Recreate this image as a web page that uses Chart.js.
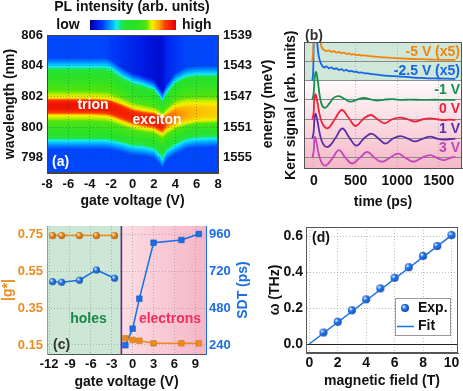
<!DOCTYPE html>
<html>
<head>
<meta charset="utf-8">
<script src="https://cdn.jsdelivr.net/npm/chart.js@4.4.0/dist/chart.umd.min.js"></script>
<style>
  html, body { margin: 0; padding: 0; background: #fff; }
  #wrap { position: relative; width: 463px; height: 391px; overflow: hidden; }
  canvas { position: absolute; }
</style>
</head>
<body>
<div id="wrap">
  <canvas id="pl" width="280" height="212" style="left:0;top:0"></canvas>
  <canvas id="kerr" width="183" height="212" style="left:280px;top:0"></canvas>
  <canvas id="gfac" width="262" height="179" style="left:0;top:212px"></canvas>
  <canvas id="omega" width="201" height="179" style="left:262px;top:212px"></canvas>
</div>
<script>
"use strict";

// ---- (a) PL map (nm) ----
const plVoltage   = [-8, -6, -4, -2.5, -2, -1, 0, 1, 2, 2.5, 2.8, 3.2, 4, 5, 6, 8];
const plPeakNm    = [801.4, 801.4, 801.4, 801.35, 801.3, 801.0, 800.7, 800.55, 800.45, 800.3, 800.2, 800.45, 800.7, 800.85, 800.95, 801.0];
const plPeakLevel = [0.96, 0.96, 0.96, 0.96, 0.95, 0.94, 0.93, 0.93, 0.94, 0.95, 0.92, 0.86, 0.83, 0.8, 0.78, 0.76];
const plCyanTop   = [803.95, 803.95, 803.95, 803.95, 803.85, 803.35, 803.0, 802.8, 802.55, 802.1, 801.8, 802.3, 803.0, 803.35, 803.45, 803.45];
const plGreenTop  = [803.4, 803.4, 803.4, 803.4, 803.25, 802.8, 802.45, 802.25, 802.05, 801.7, 801.45, 801.85, 802.6, 802.95, 803.05, 803.05];
const plYellowTop = [801.9, 801.9, 801.9, 801.85, 801.8, 801.55, 801.25, 801.1, 801.0, 800.85, 800.7, 800.95, 801.35, 801.5, 801.5, 801.5];
const plYellowBot = [800.75, 800.75, 800.75, 800.7, 800.62, 800.35, 800.1, 799.95, 799.85, 799.65, 799.55, 799.8, 800.1, 800.3, 800.45, 800.5];
const plGreenBot  = [799.55, 799.55, 799.55, 799.5, 799.45, 799.3, 799.15, 799.1, 799.0, 798.75, 798.55, 798.9, 799.25, 799.6, 799.7, 799.75];
const plCyanBot   = [799.1, 799.1, 799.1, 799.1, 799.05, 798.9, 798.7, 798.65, 798.5, 798.15, 797.85, 798.4, 798.75, 799.1, 799.2, 799.25];
const plFloorTop  = [0.15, 0.15, 0.15, 0.15, 0.14, 0.12, 0.1, 0.08, 0.06, 0.05, 0.06, 0.1, 0.13, 0.15, 0.15, 0.15];
const plFloorBottom = 0.15;

const gateTicksA = [-8, -6, -4, -2, 0, 2, 4, 6, 8];
const wavelengthTicks = [798, 800, 802, 804, 806];
const energyTicks = [1539, 1543, 1547, 1551, 1555];

// ---- (b) Kerr traces: [time ps, signal], each on its own baseline ----
const kerrM5V = [[-20,0],[-10,0.5],[0,1.5],[30,1.8],[60,1.6],[80,0.95],[100,0.66],[120,0.6],[150,0.53],[180,0.57],[210,0.49],[240,0.53],[270,0.45],[300,0.49],[330,0.42],[360,0.45],[390,0.38],[420,0.41],[450,0.35],[480,0.37],[510,0.32],[540,0.34],[570,0.3],[600,0.31],[650,0.28],[700,0.26],[800,0.22],[900,0.19],[1000,0.16],[1100,0.14],[1200,0.12],[1300,0.11],[1400,0.095],[1500,0.085],[1600,0.075],[1700,0.07]];
const kerrM2p5V = [[-20,0],[-10,0.4],[0,2.2],[20,2.6],[40,1.9],[55,1.32],[75,0.98],[95,0.8],[120,0.68],[150,0.74],[180,0.64],[210,0.69],[240,0.6],[270,0.64],[300,0.56],[330,0.6],[360,0.52],[390,0.55],[420,0.48],[450,0.51],[480,0.45],[510,0.46],[540,0.41],[570,0.43],[600,0.39],[650,0.37],[700,0.34],[800,0.29],[900,0.25],[1000,0.22],[1100,0.19],[1200,0.16],[1300,0.14],[1400,0.12],[1500,0.11],[1600,0.1],[1700,0.09]];
const kerrM1V = [[-20,0],[-5,0.3],[10,1.2],[25,1.44],[45,1.0],[70,0.2],[100,-0.3],[140,-0.4],[190,-0.15],[240,0.12],[300,0.2],[370,0.05],[440,-0.09],[520,0.02],[600,0.1],[680,0.03],[760,-0.03],[850,0.02],[950,0.04],[1050,0],[1150,0.02],[1300,0],[1450,0.01],[1600,0],[1700,0]];
const kerr0V = [[-20,0],[-5,0.3],[5,1.1],[18,1.29],[40,0.9],[70,0.2],[110,-0.3],[170,-0.46],[250,0],[335,0.48],[420,0.05],[500,-0.35],[590,0],[680,0.22],[765,0],[850,-0.21],[940,0],[1035,0.08],[1125,0],[1215,-0.12],[1310,0],[1400,0.05],[1480,0],[1560,-0.05],[1630,-0.02],[1700,-0.04]];
const kerr1V = [[-20,0],[-5,0.3],[8,1.1],[20,1.29],[40,0.95],[70,0.25],[110,-0.28],[170,-0.43],[255,0],[340,0.52],[425,0.05],[510,-0.37],[600,0],[690,0.26],[775,0],[860,-0.26],[950,0],[1040,0.13],[1130,0],[1215,-0.15],[1310,0],[1400,0.1],[1480,0],[1560,-0.05],[1700,0]];
const kerr3V = [[-20,0],[-5,0.3],[5,0.9],[12,1.08],[30,0.8],[60,0.15],[100,-0.3],[150,-0.38],[225,0],[300,0.4],[380,0],[460,-0.29],[550,0],[640,0.31],[730,0],[815,-0.2],[910,0],[1010,0.22],[1100,0],[1195,-0.2],[1295,0],[1395,0.14],[1480,0],[1560,-0.12],[1640,0],[1700,0.05]];
const kerrLabels = ["-5 V (x5)", "-2.5 V (x5)", "-1 V", "0 V", "1 V", "3 V"];
const kerrColors = ["#f0860c", "#1565e8", "#13904a", "#f2203a", "#5b2ea6", "#c545b8"];
const timeTicks = [0, 500, 1000, 1500];
const kerrBaselines = [5, 4, 3, 2, 1, 0];

// ---- (c) g-factor and spin dephasing time ----
const holesVoltage = [-11.5, -10.2, -7.65, -5.2, -2.6];
const holesG = [0.743, 0.743, 0.743, 0.743, 0.743];
const holesSDT = [652, 648, 661, 728, 674];
const electronsVoltage = [-1.05, 0.0, 0.96, 3.0, 7.0, 9.5];
const electronsG = [0.186, 0.177, 0.173, 0.159, 0.159, 0.159];
const electronsSDT = [238, 346, 541, 905, 923, 962];
const carrierBoundary = -1.62;
const gateTicksC = [-12, -9, -6, -3, 0, 3, 6, 9];
const gTicks = [0.15, 0.35, 0.55, 0.75];
const sdtTicks = [240, 480, 720, 960];

// ---- (d) precession frequency vs field ----
const fieldT = [1, 2, 3, 4, 5, 6, 7, 8, 9, 10];
const omegaTHz = [0.064, 0.124, 0.188, 0.249, 0.31, 0.369, 0.428, 0.491, 0.546, 0.607];
const fitField = [0, 10];
const fitOmega = [0, 0.605];
const fieldTicks = [0, 2, 4, 6, 8, 10];
const omegaTicks = [0, 0.2, 0.4, 0.6];

const FONT = '"Liberation Sans", Arial, Helvetica, sans-serif';
const ORANGE = "#ec8a1c";
const BLUE = "#1a6ee6";

Chart.defaults.font.family = FONT;
Chart.defaults.font.weight = "bold";
Chart.defaults.font.size = 13;
Chart.defaults.color = "#111";
Chart.defaults.animation = false;
Chart.defaults.events = [];
Chart.defaults.plugins.legend.display = false;
Chart.defaults.plugins.tooltip.enabled = false;

const fixTicks = (vals) => (s) => { s.ticks = vals.map((v) => ({ value: v })); };
const fixWidth = (w) => (s) => { s.width = w; };
const fixHeight = (h) => (s) => { s.height = h; };
const plain = (v) => String(v);
const flat = { maxRotation: 0, minRotation: 0, autoSkip: false };

function text(ctx, str, x, y, opt = {}) {
  ctx.save();
  ctx.translate(x, y);
  ctx.rotate(opt.rot || 0);
  ctx.font = `bold ${opt.size || 14}px ${FONT}`;
  ctx.fillStyle = opt.color || "#111";
  ctx.textAlign = opt.align || "center";
  ctx.textBaseline = "middle";
  ctx.fillText(str, 0, 0);
  ctx.restore();
}

function frame(color) {
  return {
    id: "frame",
    afterDraw(chart) {
      const { ctx, chartArea: a } = chart;
      ctx.save();
      ctx.strokeStyle = color;
      ctx.lineWidth = 1;
      ctx.strokeRect(Math.round(a.left) + 0.5, Math.round(a.top) + 0.5,
        Math.round(a.right - a.left) - 1, Math.round(a.bottom - a.top) - 1);
      ctx.restore();
    }
  };
}

function sphere(r, light, base, dark) {
  const c = document.createElement("canvas");
  c.width = c.height = 2 * r + 2;
  const g = c.getContext("2d");
  const m = r + 1;
  const grad = g.createRadialGradient(m - r * 0.4, m - r * 0.4, r * 0.1, m, m, r);
  grad.addColorStop(0, light);
  grad.addColorStop(0.45, base);
  grad.addColorStop(1, dark);
  g.fillStyle = grad;
  g.beginPath();
  g.arc(m, m, r, 0, Math.PI * 2);
  g.fill();
  return c;
}

// jet-like colour map seen in the colour bar
const jetStops = [
  [0.00, 0, 0, 150], [0.07, 0, 20, 225], [0.14, 0, 60, 250], [0.21, 0, 130, 255],
  [0.27, 0, 200, 255], [0.31, 30, 235, 240], [0.35, 20, 232, 120], [0.40, 40, 226, 50],
  [0.52, 40, 225, 40], [0.66, 80, 228, 15], [0.70, 200, 236, 0], [0.73, 245, 240, 0],
  [0.80, 255, 170, 0], [0.88, 250, 60, 0], [1.00, 235, 0, 0]
];
function jet(v) {
  v = Math.max(0, Math.min(1, v));
  for (let i = 1; i < jetStops.length; i++) {
    if (v <= jetStops[i][0]) {
      const a = jetStops[i - 1], b = jetStops[i];
      const t = (v - a[0]) / (b[0] - a[0]);
      return [a[1] + t * (b[1] - a[1]), a[2] + t * (b[2] - a[2]), a[3] + t * (b[3] - a[3])];
    }
  }
  return jetStops[jetStops.length - 1].slice(1);
}

function lerpArr(xs, ys, v) {
  if (v <= xs[0]) return ys[0];
  for (let i = 1; i < xs.length; i++) {
    if (v <= xs[i]) {
      const t = (v - xs[i - 1]) / (xs[i] - xs[i - 1]);
      return ys[i - 1] + t * (ys[i] - ys[i - 1]);
    }
  }
  return ys[ys.length - 1];
}

function columnAt(v) {
  const f = (arr) => lerpArr(plVoltage, arr, v);
  return {
    peak: f(plPeakNm), level: f(plPeakLevel),
    up: [f(plYellowTop), f(plGreenTop), f(plCyanTop)],
    down: [f(plYellowBot), f(plGreenBot), f(plCyanBot)],
    floorTop: f(plFloorTop)
  };
}

function plLevel(c, lam) {
  const isUp = lam >= c.peak;
  const d = Math.abs(lam - c.peak);
  const e = (isUp ? c.up : c.down).map((x) => Math.abs(x - c.peak));
  const floor = isUp ? c.floorTop : plFloorBottom;
  if (d <= e[0]) return c.level - (c.level - 0.73) * Math.pow(d / e[0], 3);
  if (d <= e[1]) return 0.73 - 0.23 * (d - e[0]) / (e[1] - e[0]);
  if (d <= e[2]) return 0.5 - 0.2 * (d - e[1]) / (e[2] - e[1]);
  const t = Math.min(1, (d - e[2]) / 0.55);
  return 0.3 - (0.3 - floor) * t;
}

const plMap = {
  id: "plMap",
  beforeDraw(chart) {
    const { ctx, chartArea: a, scales: { x, y } } = chart;
    const x0 = Math.round(a.left), y0 = Math.round(a.top);
    const w = Math.round(a.right) - x0, h = Math.round(a.bottom) - y0;
    const img = ctx.createImageData(w, h);
    for (let i = 0; i < w; i++) {
      const col = columnAt(x.getValueForPixel(x0 + i + 0.5));
      for (let j = 0; j < h; j++) {
        const rgb = jet(plLevel(col, y.getValueForPixel(y0 + j + 0.5)));
        const k = (j * w + i) * 4;
        img.data[k] = rgb[0]; img.data[k + 1] = rgb[1]; img.data[k + 2] = rgb[2]; img.data[k + 3] = 255;
      }
    }
    ctx.putImageData(img, x0, y0);
  },
  afterDraw(chart) {
    const { ctx, scales: { x, y } } = chart;
    // colour bar
    text(ctx, "PL intensity (arb. units)", 132, 7, { size: 14 });
    text(ctx, "low", 68, 25, { size: 14 });
    text(ctx, "high", 182, 25, { size: 14, align: "left" });
    for (let i = 0; i < 86; i++) {
      const c = jet(i / 85);
      ctx.fillStyle = `rgb(${c[0] | 0},${c[1] | 0},${c[2] | 0})`;
      ctx.fillRect(90 + i, 20, 1, 10);
    }
    text(ctx, "trion", x.getPixelForValue(-3.7), y.getPixelForValue(801.45), { color: "#fff" });
    text(ctx, "exciton", x.getPixelForValue(2.3), y.getPixelForValue(800.43), { color: "#fff" });
    text(ctx, "(a)", chart.chartArea.left + 5, chart.chartArea.bottom - 11, { color: "#fff", align: "left" });
    text(ctx, "energy (meV)", 268, (chart.chartArea.top + chart.chartArea.bottom) / 2, { rot: -Math.PI / 2 });
  }
};

const gridA = { color: "rgba(40,40,90,0.35)", drawTicks: false };

new Chart(document.getElementById("pl"), {
  type: "scatter",
  data: { datasets: [] },
  options: {
    responsive: false, devicePixelRatio: 1,
    layout: { padding: { top: 35, left: 0, right: 0, bottom: 0 } },
    scales: {
      x: {
        type: "linear", min: -8, max: 8,
        afterBuildTicks: fixTicks(gateTicksA), afterFit: fixHeight(39),
        grid: gridA, border: { color: "#444", dash: [1, 2] },
        ticks: { padding: 4, callback: plain, ...flat },
        title: { display: true, text: "gate voltage (V)", font: { size: 14 }, padding: { top: 0, bottom: 2.6 } }
      },
      y: {
        type: "linear", position: "left", min: 797, max: 806,
        afterBuildTicks: fixTicks(wavelengthTicks), afterFit: fixWidth(47),
        grid: gridA, border: { color: "#444", dash: [1, 2] },
        ticks: { padding: 4, callback: plain },
        title: { display: true, text: "wavelength (nm)", font: { size: 14 }, padding: { top: 1.6, bottom: 0 } }
      },
      y2: {
        type: "linear", position: "right", reverse: true, min: 1539, max: 1557,
        afterBuildTicks: fixTicks(energyTicks), afterFit: fixWidth(62),
        grid: { display: false, drawTicks: false }, border: { color: "#444" },
        ticks: { padding: 5, callback: plain }
      }
    }
  },
  plugins: [plMap, frame("#444")]
});

// ---- (b) ----
const kerrSeries = [kerrM5V, kerrM2p5V, kerrM1V, kerr0V, kerr1V, kerr3V];

const kerrDeco = {
  id: "kerrDeco",
  beforeDraw(chart) {
    const { ctx, chartArea: a, scales: { y } } = chart;
    const ySplit = y.getPixelForValue(4);
    ctx.fillStyle = "#cfe7d8";
    ctx.fillRect(a.left, a.top, a.right - a.left, ySplit - a.top);
    const g = ctx.createLinearGradient(0, ySplit, 0, a.bottom);
    g.addColorStop(0, "#fffafb");
    g.addColorStop(1, "#f5b8c8");
    ctx.fillStyle = g;
    ctx.fillRect(a.left, ySplit, a.right - a.left, a.bottom - ySplit);
  },
  afterDraw(chart) {
    const { ctx, chartArea: a, scales: { y } } = chart;
    kerrLabels.forEach((lab, i) => {
      text(ctx, lab, a.right - 2, y.getPixelForValue(kerrBaselines[i] + 0.5), { color: kerrColors[i], align: "right" });
    });
    text(ctx, "(b)", a.left + 1, a.top - 6, { color: "#333", align: "left" });
  }
};

new Chart(document.getElementById("kerr"), {
  type: "line",
  data: {
    datasets: kerrSeries.map((s, i) => ({
      data: s.map(([t, v]) => ({ x: t, y: v + kerrBaselines[i] })),
      borderColor: kerrColors[i], borderWidth: 1.8, pointRadius: 0, tension: 0.4, fill: false
    }))
  },
  options: {
    responsive: false, devicePixelRatio: 1,
    layout: { padding: { top: 42, right: 1, left: 0, bottom: 0 } },
    scales: {
      x: {
        type: "linear", min: -120, max: 1780,
        afterBuildTicks: fixTicks(timeTicks), afterFit: fixHeight(43.5),
        grid: { color: "rgba(120,120,120,0.45)", drawTicks: false }, border: { color: "#555", dash: [1, 2] },
        ticks: { padding: 4, font: { size: 14 }, callback: plain, ...flat },
        title: { display: true, text: "time (ps)", font: { size: 14 }, padding: { top: 0, bottom: 1.6 } }
      },
      y: {
        type: "linear", min: -0.55, max: 6,
        afterBuildTicks: fixTicks(kerrBaselines), afterFit: fixWidth(24),
        ticks: { display: false },
        grid: { color: "#8a8a8a", drawTicks: false }, border: { color: "#555" },
        title: { display: true, text: "Kerr signal (arb. units)", font: { size: 14 }, padding: { top: 2.6, bottom: 0 } }
      }
    }
  },
  plugins: [kerrDeco, frame("#555")]
});

// ---- (c) ----
const orangeBall = sphere(3.5, "#fff3e0", ORANGE, "#b5600a");
const blueBall = sphere(3.5, "#e6f0ff", "#2b7cf0", "#0b47b0");
const gridC = { color: "rgba(110,110,110,0.4)", drawTicks: false };

const gDeco = {
  id: "gDeco",
  beforeDraw(chart) {
    const { ctx, chartArea: a, scales: { x } } = chart;
    const xb = x.getPixelForValue(carrierBoundary);
    ctx.fillStyle = "#cde7d6";
    ctx.fillRect(a.left, a.top, xb - a.left, a.bottom - a.top);
    const g = ctx.createLinearGradient(xb, 0, a.right, 0);
    g.addColorStop(0, "#fcdde4");
    g.addColorStop(1, "#f5b5c6");
    ctx.fillStyle = g;
    ctx.fillRect(xb, a.top, a.right - xb, a.bottom - a.top);
  },
  beforeDatasetsDraw(chart) {
    const { ctx, chartArea: a, scales: { x } } = chart;
    const xb = x.getPixelForValue(carrierBoundary);
    ctx.save();
    ctx.strokeStyle = "#5a2d82";
    ctx.lineWidth = 1.6;
    ctx.beginPath(); ctx.moveTo(xb, a.top); ctx.lineTo(xb, a.bottom); ctx.stroke();
    ctx.restore();
    text(ctx, "holes", 88.5, 107, { color: "#19874a" });
    text(ctx, "electrons", 170, 107, { color: "#ee2f5e" });
    text(ctx, "(c)", a.left + 6, 133, { color: "#333", align: "left" });
  },
  afterDraw(chart) {
    const { ctx, chartArea: a } = chart;
    text(ctx, "SDT (ps)", 243, (a.top + a.bottom) / 2, { color: BLUE, rot: -Math.PI / 2 });
  }
};

const xy = (xs, ys) => xs.map((v, i) => ({ x: v, y: ys[i] }));

new Chart(document.getElementById("gfac"), {
  type: "line",
  data: {
    datasets: [
      { data: xy(holesVoltage, holesG), yAxisID: "g", borderColor: ORANGE, borderWidth: 1.5, pointStyle: orangeBall },
      { data: xy(holesVoltage, holesSDT), yAxisID: "sdt", borderColor: BLUE, borderWidth: 1.5, pointStyle: blueBall },
      { data: xy(electronsVoltage, electronsG), yAxisID: "g", borderColor: ORANGE, borderWidth: 1.5,
        pointStyle: "rect", pointRadius: 4, pointBackgroundColor: ORANGE, pointBorderColor: "#c8700e", pointBorderWidth: 0.5 },
      { data: xy(electronsVoltage, electronsSDT), yAxisID: "sdt", borderColor: BLUE, borderWidth: 1.5,
        pointStyle: "rect", pointRadius: 4, pointBackgroundColor: BLUE, pointBorderColor: "#0d50c0", pointBorderWidth: 0.5 }
    ]
  },
  options: {
    responsive: false, devicePixelRatio: 1,
    layout: { padding: { top: 14, right: 0, left: 0, bottom: 0 } },
    scales: {
      x: {
        type: "linear", min: -12.3, max: 10.53,
        afterBuildTicks: fixTicks(gateTicksC), afterFit: fixHeight(37),
        grid: gridC, border: { color: "#555", dash: [1, 2] },
        ticks: { padding: 3, callback: plain, ...flat },
        title: { display: true, text: "gate voltage (V)", font: { size: 14 }, padding: { top: 0, bottom: 0 } }
      },
      g: {
        type: "linear", position: "left", min: 0.101, max: 0.795,
        afterBuildTicks: fixTicks(gTicks), afterFit: fixWidth(47),
        grid: gridC, border: { color: ORANGE, dash: [1, 2] },
        ticks: { padding: 4, color: ORANGE, callback: (v) => v.toFixed(2) },
        title: { display: true, text: "|g*|", color: ORANGE, font: { size: 14 }, padding: { top: 0, bottom: 0 } }
      },
      sdt: {
        type: "linear", position: "right", min: 181, max: 1014,
        afterBuildTicks: fixTicks(sdtTicks), afterFit: fixWidth(56),
        grid: { display: false, drawTicks: false }, border: { color: BLUE },
        ticks: { padding: 3, color: BLUE, callback: plain }
      }
    }
  },
  plugins: [gDeco]
});

// ---- (d) ----
const blueBallD = sphere(4, "#e6f0ff", "#2b7cf0", "#0b47b0");

const omegaDeco = {
  id: "omegaDeco",
  afterDraw(chart) {
    const { ctx, chartArea: a } = chart;
    text(ctx, "(d)", a.left + 6, a.top + 11, { color: "#111", align: "left" });
    const bx = a.right - 63, by = a.bottom - 55, bw = 55, bh = 37;
    ctx.save();
    ctx.fillStyle = "#fff";
    ctx.strokeStyle = "#999";
    ctx.fillRect(bx, by, bw, bh);
    ctx.strokeRect(bx + 0.5, by + 0.5, bw, bh);
    ctx.drawImage(blueBallD, bx + 10 - 5, by + 10 - 5);
    ctx.strokeStyle = BLUE;
    ctx.lineWidth = 1.5;
    ctx.beginPath(); ctx.moveTo(bx + 2, by + 28.5); ctx.lineTo(bx + 19, by + 28.5); ctx.stroke();
    ctx.restore();
    text(ctx, "Exp.", bx + 23, by + 10, { align: "left" });
    text(ctx, "Fit", bx + 23, by + 28, { align: "left" });
  }
};

new Chart(document.getElementById("omega"), {
  type: "line",
  data: {
    datasets: [
      { data: xy(fitField, fitOmega), borderColor: BLUE, borderWidth: 1.5, pointRadius: 0 },
      { data: xy(fieldT, omegaTHz), showLine: false, pointStyle: blueBallD }
    ]
  },
  options: {
    responsive: false, devicePixelRatio: 1,
    layout: { padding: { top: 15, right: 1, left: 0, bottom: 0 } },
    scales: {
      x: {
        type: "linear", min: -0.23, max: 10.46,
        afterBuildTicks: fixTicks(fieldTicks), afterFit: fixHeight(38),
        grid: { color: "rgba(110,110,110,0.45)", drawTicks: false }, border: { color: "#555", dash: [1, 2] },
        ticks: { padding: 2, font: { size: 14 }, callback: plain, ...flat },
        title: { display: true, text: "magnetic field (T)", font: { size: 14 }, padding: { top: 0, bottom: 1 } }
      },
      y: {
        type: "linear", min: -0.05, max: 0.652,
        afterBuildTicks: fixTicks(omegaTicks), afterFit: fixWidth(44),
        grid: { color: (c) => (c.tick && c.tick.value === 0 ? "#222" : "rgba(110,110,110,0.45)"), drawTicks: false },
        border: { color: "#555", dash: (c) => (c.tick && c.tick.value === 0 ? [] : [1, 2]) },
        ticks: { padding: 3, font: { size: 14 }, callback: (v) => v.toFixed(1) },
        title: { display: true, text: "ω (THz)", font: { size: 14 }, padding: { top: 4.6, bottom: 0 } }
      }
    }
  },
  plugins: [omegaDeco, frame("#555")]
});
</script>
</body>
</html>
